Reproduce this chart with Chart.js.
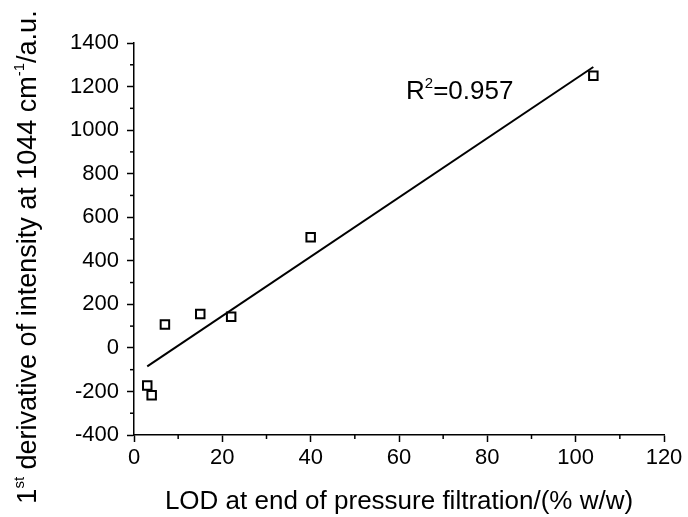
<!DOCTYPE html>
<html>
<head>
<meta charset="utf-8">
<script src="https://cdn.jsdelivr.net/npm/chart.js@4.4.1/dist/chart.umd.min.js"></script>
<style>
  html, body { margin: 0; padding: 0; background: #fff; }
  #wrap { width: 688px; height: 517px; }
</style>
</head>
<body>
<div id="wrap"><canvas id="chart" width="688" height="517"></canvas></div>
<script>
// measured points
var lodValues = [3, 4, 7, 15, 22, 40, 104];
var derivValues = [-173, -217, 107, 156, 143, 508, 1250];
// linear fit end points
var fitX = [3, 104];
var fitY = [-85, 1290];
var xTicks = [0, 20, 40, 60, 80, 100, 120];
var yTicks = [-400, -200, 0, 200, 400, 600, 800, 1000, 1200, 1400];
var r2Label = '0.957';

var FONT = '"Liberation Sans", Arial, sans-serif';

var points = [];
for (var i = 0; i < lodValues.length; i++) {
  points.push({ x: lodValues[i], y: derivValues[i] });
}
var fitLine = [];
for (var j = 0; j < fitX.length; j++) {
  fitLine.push({ x: fitX[j], y: fitY[j] });
}

// minor ticks, R^2 text and y title with superscripts
var extras = {
  id: 'extras',
  afterDraw: function(chart) {
    var ctx = chart.ctx;
    var xs = chart.scales.x, ys = chart.scales.y;
    var area = chart.chartArea;
    ctx.save();
    ctx.strokeStyle = '#000';
    ctx.lineWidth = 1.5;
    for (var v = 10; v < 120; v += 20) {
      var px = xs.getPixelForValue(v);
      ctx.beginPath();
      ctx.moveTo(px, area.bottom);
      ctx.lineTo(px, area.bottom + 4);
      ctx.stroke();
    }
    for (var w = -300; w < 1400; w += 200) {
      var py = ys.getPixelForValue(w);
      ctx.beginPath();
      ctx.moveTo(area.left, py);
      ctx.lineTo(area.left - 4, py);
      ctx.stroke();
    }

    // R^2 label
    ctx.fillStyle = '#000';
    ctx.textBaseline = 'alphabetic';
    var tx = xs.getPixelForValue(61.6), ty = ys.getPixelForValue(1142);
    ctx.font = '26px ' + FONT;
    ctx.fillText('R', tx, ty);
    var rw = ctx.measureText('R').width;
    ctx.font = '15px ' + FONT;
    ctx.fillText('2', tx + rw, ty - 11);
    var sw = ctx.measureText('2').width;
    ctx.font = '26px ' + FONT;
    ctx.fillText('=' + r2Label, tx + rw + sw, ty);

    // y axis title
    var parts = [
      ['1', 27, 0], ['st', 15, 12], [' derivative of intensity at 1044 cm', 27, 0],
      ['-1', 15, 12], ['/a.u.', 27, 0]
    ];
    var total = 0;
    parts.forEach(function(p) {
      ctx.font = p[1] + 'px ' + FONT;
      total += ctx.measureText(p[0]).width;
    });
    ctx.translate(36, 257);
    ctx.rotate(-Math.PI / 2);
    var cx = -total / 2;
    parts.forEach(function(p) {
      ctx.font = p[1] + 'px ' + FONT;
      ctx.fillText(p[0], cx, -p[2]);
      cx += ctx.measureText(p[0]).width;
    });
    ctx.restore();
  }
};

function plain(value) { return String(value); }

window.onload = function() {
  var ctx = document.getElementById('chart').getContext('2d');
  window.theChart = new Chart(ctx, {
    type: 'scatter',
    data: {
      datasets: [{
        label: 'data',
        data: points,
        pointStyle: 'rect',
        pointRadius: 6,
        pointBorderWidth: 2,
        pointBorderColor: '#000',
        pointBackgroundColor: 'rgba(0,0,0,0)',
        showLine: false
      }, {
        label: 'fit',
        data: fitLine,
        showLine: true,
        borderColor: '#000',
        borderWidth: 2,
        pointRadius: 0
      }]
    },
    plugins: [extras],
    options: {
      responsive: false,
      animation: false,
      layout: { padding: { left: 30, right: 24, top: 43, bottom: 0 } },
      plugins: { legend: { display: false }, tooltip: { enabled: false } },
      scales: {
        x: {
          type: 'linear',
          min: 0, max: 120,
          afterBuildTicks: function(s) { s.ticks = xTicks.map(function(v) { return { value: v }; }); },
          afterFit: function(s) { s.height = 82; },
          border: { color: '#000', width: 1.5 },
          grid: { drawOnChartArea: false, tickLength: 7, tickColor: '#000', tickWidth: 1.5 },
          ticks: { color: '#000', font: { family: FONT, size: 22 }, padding: 3, maxRotation: 0, callback: plain },
          title: { display: true, text: 'LOD at end of pressure filtration/(% w/w)', color: '#000',
                   font: { family: FONT, size: 26 }, padding: { top: 2, bottom: 0 } }
        },
        y: {
          type: 'linear',
          min: -400, max: 1400,
          afterBuildTicks: function(s) { s.ticks = yTicks.map(function(v) { return { value: v }; }); },
          afterFit: function(s) { s.width = 104; },
          border: { color: '#000', width: 1.5 },
          grid: { drawOnChartArea: false, tickLength: 7, tickColor: '#000', tickWidth: 1.5 },
          ticks: { color: '#000', font: { family: FONT, size: 22 }, padding: 8, callback: plain }
        }
      }
    }
  });
};
</script>
</body>
</html>
